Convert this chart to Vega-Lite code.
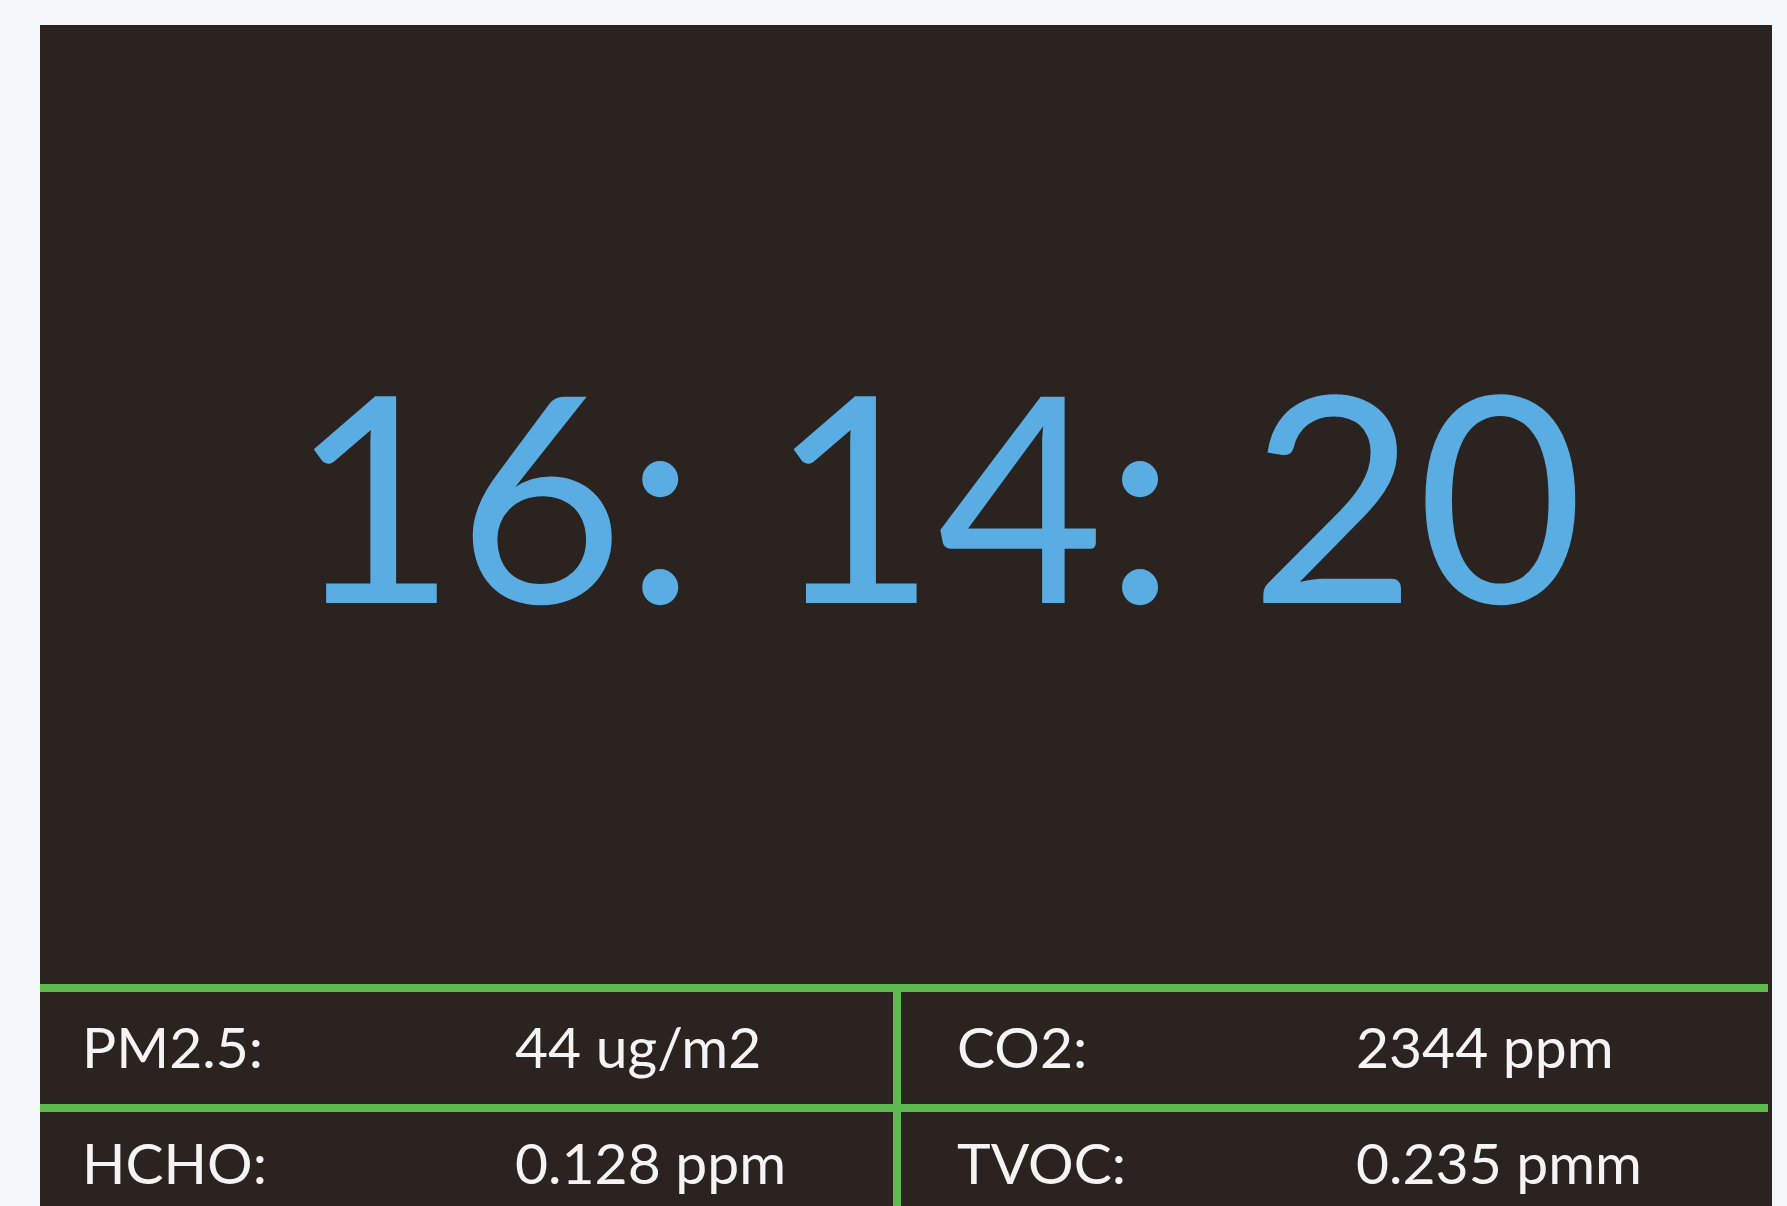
{
  "$schema": "https://vega.github.io/schema/vega-lite/v6.json",
  "width": 1787,
  "height": 1206,
  "autosize": {"type": "none"},
  "padding": 0,
  "background": "#f3f7fa",
  "config": {"view": {"stroke": null}},
  "datasets": {
    "panel": [{"x": 40, "x2": 1772, "y": 25, "y2": 1206}],
    "lines": [
      {"x": 40, "x2": 1768, "y": 988, "y2": 988},
      {"x": 40, "x2": 1768, "y": 1108, "y2": 1108},
      {"x": 897, "x2": 897, "y": 988, "y2": 1206}
    ],
    "clock": [{"x": 937, "y": 603, "label": "16: 14: 20"}],
    "readings": [
      {"x": 82, "y": 1068, "label": "PM2.5:"},
      {"x": 515, "y": 1068, "label": "44 ug/m2"},
      {"x": 957, "y": 1068, "label": "CO2:"},
      {"x": 1356, "y": 1068, "label": "2344 ppm"},
      {"x": 82, "y": 1184, "label": "HCHO:"},
      {"x": 515, "y": 1184, "label": "0.128 ppm"},
      {"x": 957, "y": 1184, "label": "TVOC:"},
      {"x": 1356, "y": 1184, "label": "0.235 pmm"}
    ]
  },
  "encoding": {
    "x": {"field": "x", "type": "quantitative", "scale": {"domain": [0, 1787], "nice": false, "zero": false}, "axis": null},
    "y": {"field": "y", "type": "quantitative", "scale": {"domain": [0, 1206], "nice": false, "zero": false, "reverse": true}, "axis": null}
  },
  "layer": [
    {
      "data": {"name": "panel"},
      "mark": {"type": "rect", "color": "#2b2320"},
      "encoding": {"x2": {"field": "x2"}, "y2": {"field": "y2"}}
    },
    {
      "data": {"name": "lines"},
      "mark": {"type": "rule", "color": "#5cba4e", "strokeWidth": 8},
      "encoding": {"x2": {"field": "x2"}, "y2": {"field": "y2"}}
    },
    {
      "data": {"name": "clock"},
      "mark": {"type": "text", "font": "Lato", "fontSize": 288, "color": "#5aade2", "align": "center", "baseline": "alphabetic"},
      "encoding": {"text": {"field": "label"}}
    },
    {
      "data": {"name": "readings"},
      "mark": {"type": "text", "font": "Lato", "fontSize": 57, "color": "#f4f4f4", "align": "left", "baseline": "alphabetic"},
      "encoding": {"text": {"field": "label"}}
    }
  ]
}
